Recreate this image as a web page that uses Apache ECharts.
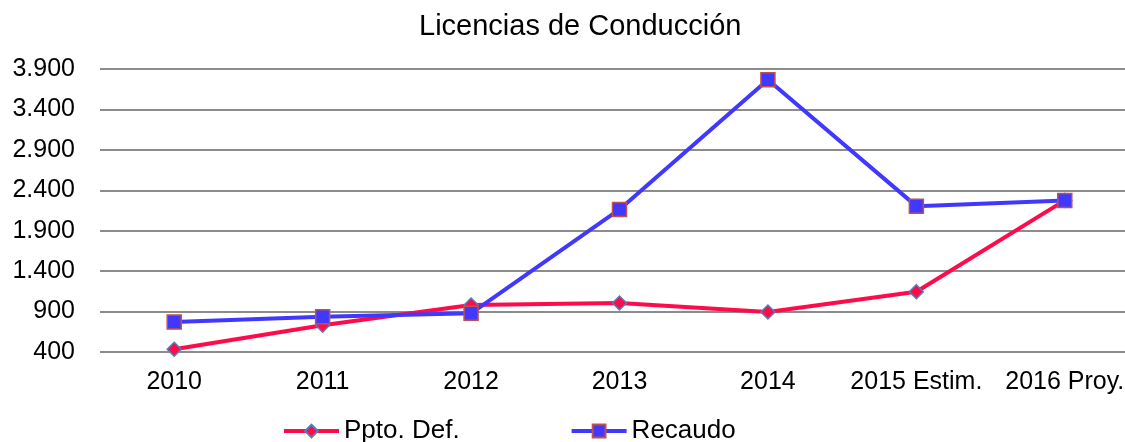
<!DOCTYPE html>
<html>
<head>
<meta charset="utf-8">
<script src="https://cdn.jsdelivr.net/npm/echarts@6/dist/echarts.min.js"></script>
<style>
  html, body { margin: 0; padding: 0; background: #fff; overflow: hidden; }
  #main { width: 1140px; height: 442px; }
</style>
</head>
<body>
<div id="main"></div>
<script>
var years = ['2010', '2011', '2012', '2013', '2014', '2015 Estim.', '2016 Proy.'];
var pptoDef = [434, 732, 981, 1006, 894, 1146, 2275];
var recaudo = [770, 835, 878, 2163, 3768, 2204, 2275];

// the plot area runs a little past the right edge of the window, as in the original
var myChart = echarts.init(document.getElementById('main'));
var font = 'Liberation Sans, Arial, sans-serif';

var option = {
    animation: false,
    title: {
        text: 'Licencias de Conducción',
        left: 419,
        top: 12,
        padding: 0,
        textStyle: { fontFamily: font, fontSize: 29, fontWeight: 'normal', color: '#000' }
    },
    legend: {
        top: 418,
        left: 282,
        padding: 0,
        itemWidth: 55,
        itemHeight: 16,
        itemGap: 110,
        lineStyle: { width: 4 },
        textStyle: { fontFamily: font, fontSize: 26, color: '#000' },
        data: ['Ppto. Def.', 'Recaudo']
    },
    grid: {
        left: 100,
        right: 1,
        top: 69,
        height: 283
    },
    xAxis: {
        type: 'category',
        data: years,
        boundaryGap: true,
        axisLine: { show: false },
        axisTick: { show: false },
        axisLabel: { interval: 0, fontFamily: font, fontSize: 25, color: '#000', margin: 18 }
    },
    yAxis: {
        type: 'value',
        min: 400,
        max: 3900,
        interval: 500,
        axisLine: { show: false },
        axisTick: { show: false },
        axisLabel: {
            fontFamily: font, fontSize: 25, color: '#000', margin: 25,
            formatter: function (v) {
                return String(v).replace(/\B(?=(\d{3})+(?!\d))/g, '.');
            }
        },
        splitLine: { lineStyle: { color: '#8c8c8c', width: 2 } }
    },
    series: [
        {
            name: 'Ppto. Def.',
            type: 'line',
            data: pptoDef,
            symbol: 'diamond',
            symbolSize: 14,
            lineStyle: { color: '#ff0a4a', width: 4 },
            itemStyle: { color: '#ff0a4a', borderColor: '#4f81bd', borderWidth: 1.5 },
            z: 2
        },
        {
            name: 'Recaudo',
            type: 'line',
            data: recaudo,
            symbol: 'rect',
            symbolSize: 14,
            lineStyle: { color: '#4038ff', width: 4 },
            itemStyle: { color: '#4038ff', borderColor: '#c0504d', borderWidth: 1.5 },
            z: 3
        }
    ]
};
myChart.setOption(option);
</script>
</body>
</html>
